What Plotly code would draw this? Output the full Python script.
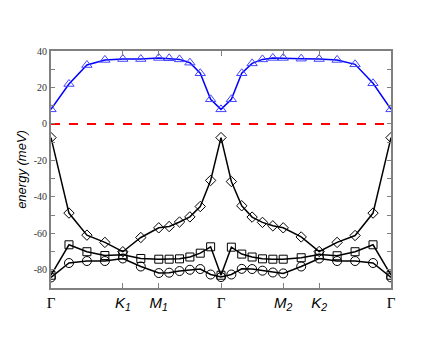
import plotly.graph_objects as go

# k-path distance (Γ-K1-M1-Γ-M2-K2-Γ), Γ-Γ half normalised to 1
k_path = [0.0, 0.1057, 0.2113, 0.3170, 0.4226, 0.5283, 0.6340,
          0.6950, 0.7560, 0.8170, 0.8780, 0.9390, 1.0,
          1.0610, 1.1220, 1.1830, 1.2440, 1.3050, 1.3660,
          1.4717, 1.5774, 1.6830, 1.7887, 1.8943, 2.0]

# bande (meV)
band_up = [8.0, 21.9, 32.3, 35.1, 35.6, 35.6, 36.2, 36.0, 35.4, 33.6, 27.8, 13.5, 8.0,
           13.5, 27.8, 33.2, 35.4, 36.2, 36.2, 35.8, 35.6, 35.1, 32.7, 22.3, 8.0]
band_diamond = [-7.5, -48.9, -61.0, -65.0, -70.1, -62.3, -57.0, -56.3, -53.8, -51.0, -45.3, -31.0, -7.5,
                -31.6, -44.9, -51.1, -54.0, -55.9, -57.0, -62.0, -70.0, -65.0, -61.2, -48.9, -7.5]
band_square = [-83.0, -66.3, -70.1, -72.2, -71.8, -73.8, -74.2, -74.2, -74.0, -73.0, -70.9, -67.4, -83.0,
               -67.6, -71.4, -73.0, -74.0, -74.2, -74.2, -73.4, -71.6, -72.3, -70.1, -66.3, -83.0]
band_circle = [-84.2, -76.3, -75.2, -75.2, -73.8, -78.2, -81.8, -81.6, -80.7, -80.0, -79.6, -82.6, -84.0,
               -82.6, -79.5, -79.6, -80.5, -81.5, -82.0, -78.2, -73.8, -75.2, -75.2, -76.3, -84.2]

# points de haute symétrie
sym_pos = [0.0, 0.4226, 0.6340, 1.0, 1.3660, 1.5774, 2.0]
sans = "font-family:Liberation Sans,Arial"
sym_text = ["Γ",
            f"<span style='{sans}'><i>K<sub>1</sub></i></span>",
            f"<span style='{sans}'><i>M<sub>1</sub></i></span>",
            "Γ",
            f"<span style='{sans}'><i>M<sub>2</sub></i></span>",
            f"<span style='{sans}'><i>K<sub>2</sub></i></span>",
            "Γ"]

y_ticks = [-80, -70, -60, -50, -40, -30, -20, -10, 0, 10, 20, 30, 40]
y_text = ["-80", "", "-60", "", "-40", "", "-20", "", "0", "", "20", "", "40"]

fig = go.Figure()

fig.add_trace(go.Scatter(x=[k_path[0], k_path[-1]], y=[0, 0], mode='lines',
                         line=dict(color='#ff0000', width=2, dash='dash')))

for vals, sym, size in [(band_circle, 'circle-open', 9),
                        (band_square, 'square-open', 8),
                        (band_diamond, 'diamond-open', 8)]:
    fig.add_trace(go.Scatter(
        x=k_path, y=vals, mode='lines+markers',
        line=dict(color='black', width=1.5),
        marker=dict(symbol=sym, size=size, color='black', line=dict(width=1))
    ))

fig.add_trace(go.Scatter(
    x=k_path, y=band_up, mode='lines+markers',
    line=dict(color='#0000ff', width=1.5),
    marker=dict(symbol='triangle-up-open', size=9, color='#4444ff', line=dict(width=1))
))

# la page ajoute 8 px de marge autour du graphique
fig.update_layout(
    width=432, height=332,
    margin=dict(l=43, r=49, t=43, b=52),
    paper_bgcolor='white', plot_bgcolor='white',
    showlegend=False,
    xaxis=dict(range=[0, 2], tickvals=sym_pos, ticktext=sym_text,
               ticks='inside', ticklen=5, tickcolor='#808080', tickwidth=1,
               showline=True, linecolor='#808080', linewidth=2, mirror='ticks',
               showgrid=False, zeroline=False,
               tickfont=dict(family='Liberation Serif, Times New Roman', size=15, color='black')),
    yaxis=dict(range=[-90, 40], tickvals=y_ticks, ticktext=y_text,
               ticks='inside', ticklen=4, tickcolor='#808080', tickwidth=1,
               showline=True, linecolor='#808080', linewidth=2, mirror='ticks',
               showgrid=False, zeroline=False,
               tickfont=dict(family='Liberation Serif, Times New Roman', size=10, color='#333333'),
               title=dict(text='<i>energy (meV)</i>', standoff=4,
                          font=dict(family='Liberation Sans, Arial', size=13, color='black'))),
)

fig.write_html("out.html")
